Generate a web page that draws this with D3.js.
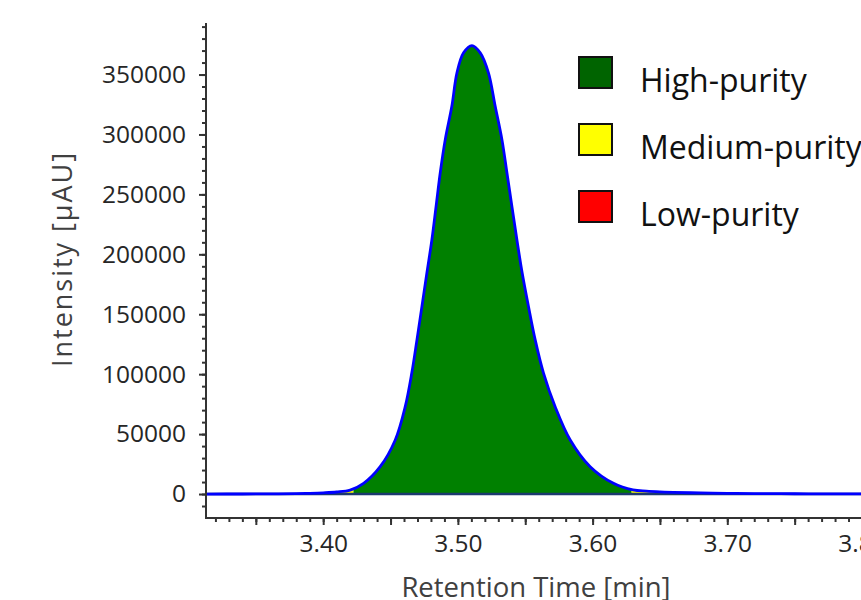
<!DOCTYPE html>
<html>

<head>
  <title>Peak purity chromatogram</title>
  <meta charset="UTF-8" />
  <script src="https://cdn.jsdelivr.net/npm/d3@7"></script>
</head>

<style>
  body {
    margin: 0;
    font-family: 'Open Sans', 'Noto Sans', sans-serif;
    background: white;
    overflow: hidden;
  }

  .tick text {
    fill: #262626;
  }
</style>

<body>
  <svg></svg>
  <script>
    // retention time [min] and intensity [uAU]
    let times = [3.313, 3.34, 3.36, 3.38, 3.39, 3.40, 3.41, 3.42, 3.43, 3.4423, 3.4535,
      3.4609, 3.4658, 3.4696, 3.4733, 3.4770, 3.4807, 3.4838, 3.4869, 3.4906, 3.4955,
      3.4993, 3.5042, 3.5104, 3.5166, 3.5227, 3.5277, 3.5327, 3.5364, 3.5401, 3.5438,
      3.5477, 3.5524, 3.5574, 3.5635, 3.5722, 3.5834, 3.5982, 3.6155, 3.63, 3.64, 3.65,
      3.66, 3.68, 3.70, 3.72, 3.75, 3.78, 3.80];
    let intensity = [0, 30, 120, 350, 600, 1000, 1700, 3300, 8900, 22800, 45100,
      72900, 101100, 128600, 156500, 184600, 212200, 240000, 268100, 295700, 323500,
      351400, 368100, 374200, 368100, 351400, 323500, 295700, 268100, 240000, 212200,
      184600, 156500, 128600, 101100, 72900, 45100, 22800, 8900, 3400, 2400, 1800,
      1400, 900, 600, 400, 250, 150, 100];

    // purity zones along the peak
    let zoneStart = [3.375, 3.412, 3.4225, 3.629, 3.658];
    let zoneEnd = [3.412, 3.4225, 3.629, 3.658, 3.77];
    let zoneClass = ['Low-purity', 'Medium-purity', 'High-purity', 'Medium-purity', 'Low-purity'];

    let legendLabels = ['High-purity', 'Medium-purity', 'Low-purity'];
    let legendColors = ['#006400', '#FFFF00', '#FF0000'];
    let fillColors = { 'High-purity': '#008000', 'Medium-purity': '#FFFF00', 'Low-purity': '#FF0000' };

    let yTicks = [0, 50000, 100000, 150000, 200000, 250000, 300000, 350000];
    let xTicks = [3.40, 3.50, 3.60, 3.70, 3.80];

    let width = 861,
      height = 600;

    let svg = d3.select('svg').attr('width', width).attr('height', height);

    let data = times.map((t, i) => ({ t: t, v: intensity[i] }));

    let x = d3.scaleLinear().domain([3.313, 3.80]).range([206, 862]);
    let y = d3.scaleLinear().domain([-20000, 393000]).range([518, 23]);

    let curve = d3.curveCatmullRom.alpha(0.5);

    let area = d3.area()
      .curve(curve)
      .x(d => x(d.t))
      .y0(y(0))
      .y1(d => Math.min(y(d.v), y(0)));

    let line = d3.line()
      .curve(curve)
      .x(d => x(d.t))
      .y(d => y(d.v));

    // coloured fill per purity zone, clipped by time range
    let defs = svg.append('defs');
    zoneStart.forEach((s, i) => {
      defs.append('clipPath')
        .attr('id', 'zone' + i)
        .append('rect')
        .attr('x', x(s))
        .attr('width', x(zoneEnd[i]) - x(s))
        .attr('y', 0)
        .attr('height', y(0));
    });

    svg.append('g')
      .selectAll('path')
      .data(zoneStart)
      .enter()
      .append('path')
      .attr('d', area(data))
      .attr('clip-path', (d, i) => 'url(#zone' + i + ')')
      .attr('fill', (d, i) => fillColors[zoneClass[i]]);

    // baseline
    svg.append('line')
      .attr('x1', x(3.313))
      .attr('x2', width)
      .attr('y1', y(0))
      .attr('y2', y(0))
      .attr('stroke', '#1c3a6e')
      .attr('stroke-width', 2.5);

    svg.append('path')
      .attr('d', line(data))
      .attr('fill', 'none')
      .attr('stroke', '#0000FF')
      .attr('stroke-width', 2.8);

    // y axis
    let yAxis = svg.append('g').attr('transform', 'translate(206,0)');
    yAxis.call(d3.axisLeft(y).tickValues(d3.range(-10000, 393000, 10000)).tickSize(4).tickFormat(''));
    yAxis.call(g => g.select('.domain').remove());
    let yMajor = svg.append('g').attr('transform', 'translate(206,0)')
      .call(d3.axisLeft(y).tickValues(yTicks).tickSize(7).tickPadding(13).tickFormat(d3.format('d')));
    yMajor.selectAll('.tick text').attr('font-size', 24.5).attr('font-family', 'Open Sans');
    yMajor.select('.domain').remove();
    svg.append('line').attr('x1', 206).attr('x2', 206).attr('y1', 23).attr('y2', 519)
      .attr('stroke', '#333').attr('stroke-width', 2);

    // x axis
    let xMinor = svg.append('g').attr('transform', 'translate(0,518)')
      .call(d3.axisBottom(x).tickValues(d3.range(3.32, 3.805, 0.01)).tickSize(4).tickFormat(''));
    xMinor.select('.domain').remove();
    let xMid = svg.append('g').attr('transform', 'translate(0,518)')
      .call(d3.axisBottom(x).tickValues(d3.range(3.35, 3.805, 0.05)).tickSize(7).tickFormat(''));
    xMid.select('.domain').remove();
    let xMajor = svg.append('g').attr('transform', 'translate(0,518)')
      .call(d3.axisBottom(x).tickValues(xTicks).tickSize(0).tickPadding(17).tickFormat(d3.format('.2f')));
    xMajor.select('.domain').remove();
    xMajor.selectAll('.tick text').attr('font-size', 24.5).attr('font-family', 'Open Sans');
    svg.append('line').attr('x1', 205).attr('x2', width).attr('y1', 518).attr('y2', 518)
      .attr('stroke', '#333').attr('stroke-width', 2);
    svg.selectAll('.tick line').attr('stroke', '#333').attr('stroke-width', 2);

    // axis titles
    svg.append('text')
      .attr('x', 536)
      .attr('y', 597)
      .attr('text-anchor', 'middle')
      .attr('font-size', 27.5)
      .attr('fill', '#404040')
      .text('Retention Time [min]');

    svg.append('text')
      .attr('transform', 'translate(72,260) rotate(-90)')
      .attr('text-anchor', 'middle')
      .attr('font-size', 27)
      .attr('fill', '#404040')
      .attr('textLength', 214)
      .attr('lengthAdjust', 'spacing')
      .text('Intensity [µAU]');

    // legend
    let legend = svg.append('g')
      .selectAll('g')
      .data(legendLabels)
      .enter()
      .append('g')
      .attr('transform', (d, i) => 'translate(579,' + (57 + i * 67) + ')');

    legend.append('rect')
      .attr('width', 33)
      .attr('height', 31)
      .attr('fill', (d, i) => legendColors[i])
      .attr('stroke', '#111')
      .attr('stroke-width', 2);

    legend.append('text')
      .attr('x', 61)
      .attr('y', 35)
      .attr('font-size', 32)
      .attr('fill', '#111')
      .text(d => d);
  </script>
</body>

</html>
